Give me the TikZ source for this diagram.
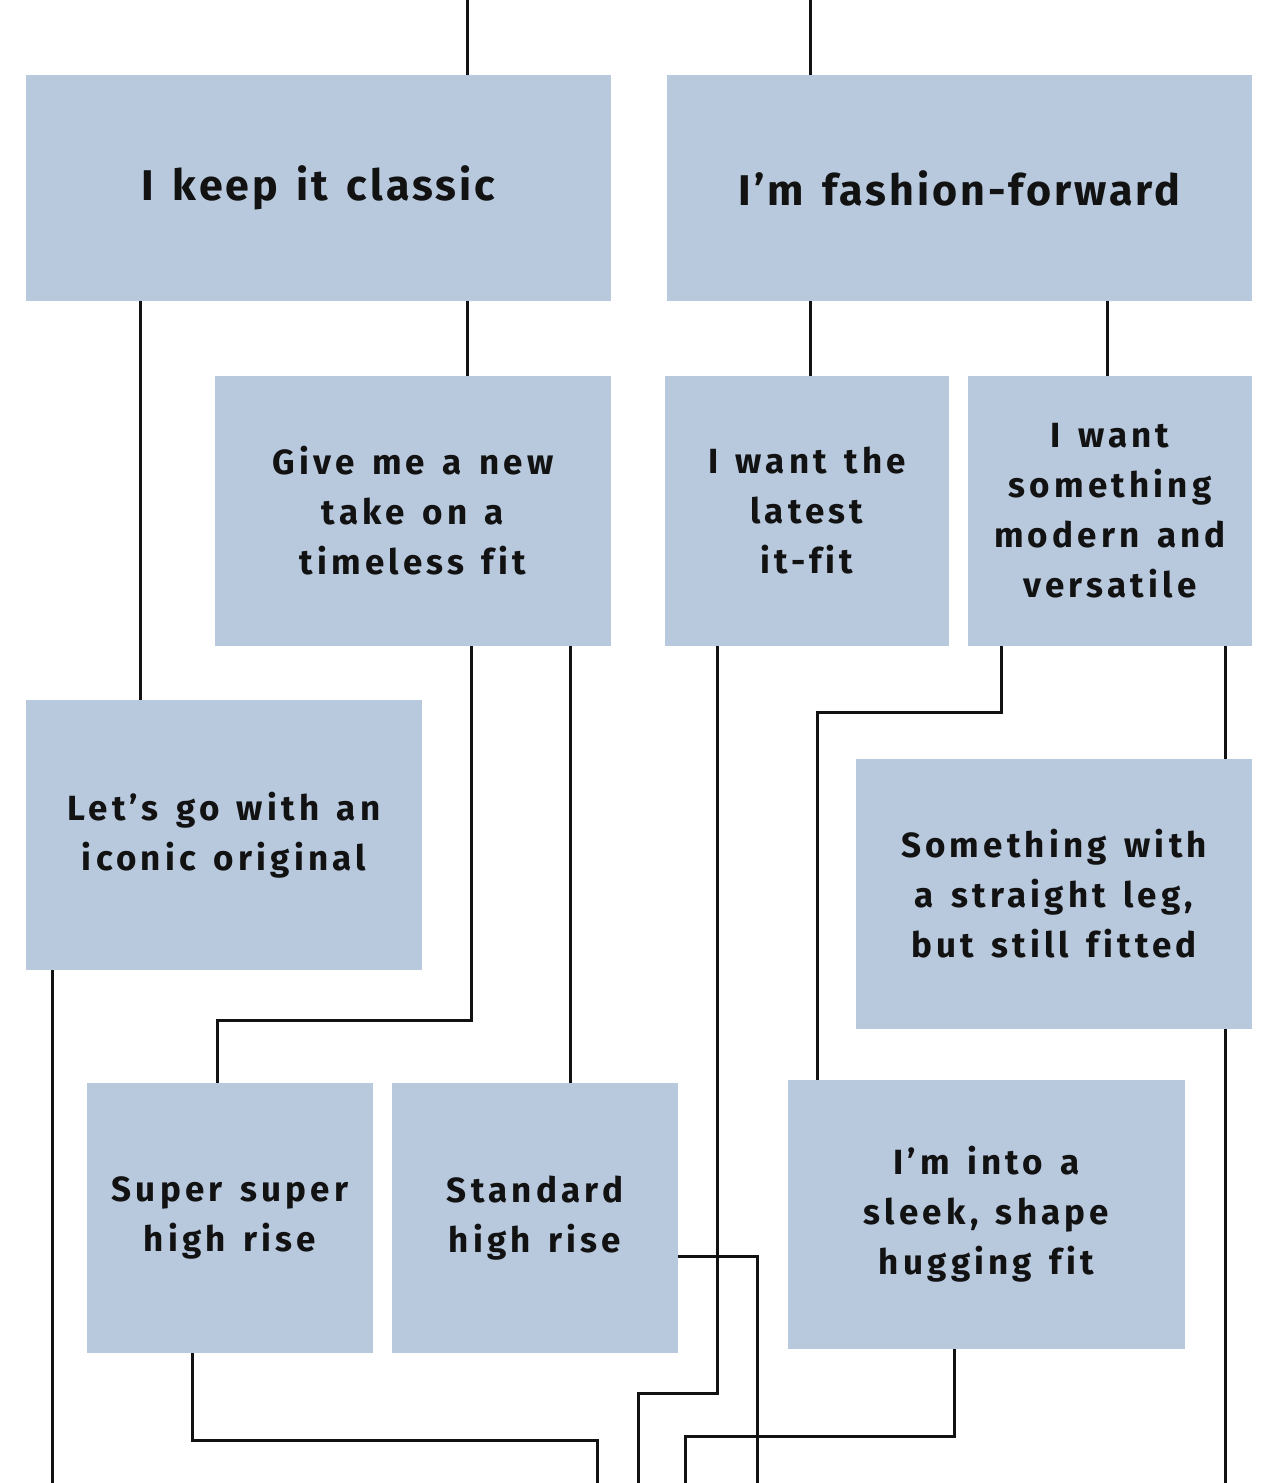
\documentclass[tikz,border=0pt]{standalone}
\usepackage{fontspec}
\setmainfont{Fira Sans}[LetterSpace=12,WordSpace=1.4,Ligatures=NoCommon]
\usepackage{tikz}
\usetikzlibrary{positioning}
\definecolor{boxblue}{RGB}{184,201,222}
\definecolor{inkblack}{RGB}{18,18,18}

\begin{document}
\begin{tikzpicture}[x=1pt,y=-1pt,
  box/.style={rectangle,fill=boxblue,draw=none,inner sep=0pt,align=center,
              text=inkblack,font=\fontsize{35}{50}\selectfont\bfseries},
  bigbox/.style={box,minimum width=585,minimum height=226,
              font=\fontsize{43}{54}\selectfont\bfseries\addfontfeature{LetterSpace=7}},
  link/.style={line width=3pt,color=inkblack}
]
\useasboundingbox (0,0) rectangle (1280,1483);
% answer boxes
\node[bigbox] (classic) at (318.5,188) {I keep it classic};
\node[bigbox] (fashion) at (959.5,188) {I'm fashion-forward};
\node[box,minimum width=396,minimum height=270] (newtake) at (413,511)
  {Give me a new\\take on a\\timeless fit};
\node[box,minimum width=284,minimum height=270] (latest) at (807,511)
  {I want the\\latest\\it-fit};
\node[box,minimum width=284,minimum height=270] (modern) at (1110,511)
  {I want\\something\\modern and\\versatile};
\node[box,minimum width=396,minimum height=270] (iconic) at (224,835)
  {Let's go with an\\iconic original};
\node[box,minimum width=396,minimum height=270] (straight) at (1054,894)
  {Something with\\a straight leg,\\but still fitted};
\node[box,minimum width=286,minimum height=270] (supsup) at (230,1218)
  {Super super\\high rise};
\node[box,minimum width=286,minimum height=270] (standard) at (535,1218)
  {Standard\\high rise};
\node[box,minimum width=397,minimum height=269] (sleek) at (986.5,1214.5)
  {I'm into a\\sleek, shape\\hugging fit};
% free ends
\coordinate (inA) at (467,0);
\coordinate (inB) at (810,0);
\coordinate (outA) at (52,1483);
\coordinate (outB) at (597,1483);
\coordinate (outC) at (638,1483);
\coordinate (outD) at (685,1483);
\coordinate (outE) at (757,1483);
\coordinate (outF) at (1225,1483);
% connectors
\draw[link] (inA) -- (inA |- classic.north);
\draw[link] (inB) -- (inB |- fashion.north);
\draw[link] ([xshift=-178.5]classic.south) -- ([xshift=-178.5]classic.south |- iconic.north);
\draw[link] ([xshift=148.5]classic.south) -- ([xshift=148.5]classic.south |- newtake.north);
\draw[link] ([xshift=-149.5]fashion.south) -- ([xshift=-149.5]fashion.south |- latest.north);
\draw[link] ([xshift=147.5]fashion.south) -- ([xshift=147.5]fashion.south |- modern.north);
\draw[link] ([xshift=58]newtake.south) |- ([xshift=-13,yshift=62]supsup.north)
  -- ([xshift=-13]supsup.north);
\draw[link] ([xshift=157]newtake.south) -- ([xshift=157]newtake.south |- standard.north);
\draw[link] ([xshift=-90]latest.south) |- ([yshift=90]outC) -- (outC);
\draw[link] ([xshift=-109]modern.south) |- ([xshift=-169.5,yshift=367]sleek.north)
  -- ([xshift=-169.5]sleek.north);
\draw[link] ([xshift=115]modern.south) -- ([xshift=115]modern.south |- straight.north);
\draw[link] ([xshift=171]straight.south) -- (outF);
\draw[link] ([xshift=-172]iconic.south) -- (outA);
\draw[link] ([xshift=-38]supsup.south) |- ([yshift=43]outB) -- (outB);
\draw[link] ([yshift=-38]standard.east) -| (outE);
\draw[link] ([xshift=-32.5]sleek.south) |- ([yshift=47]outD) -- (outD);
\end{tikzpicture}
\end{document}
